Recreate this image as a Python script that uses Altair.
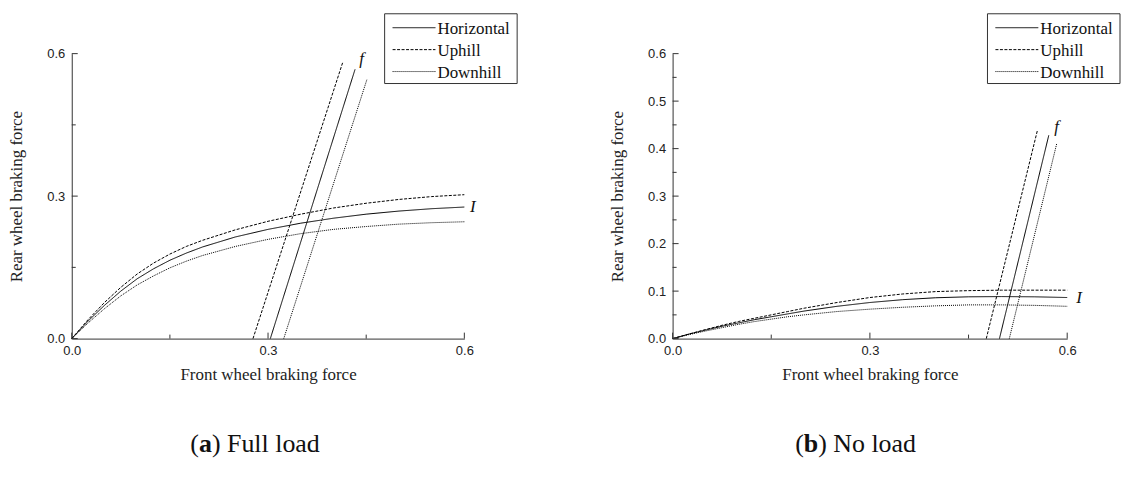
import altair as alt
import pandas as pd

# ---------------- data ----------------
series_names = ["Horizontal", "Uphill", "Downhill"]
dash_patterns = [[1, 0], [3, 1.5], [1, 1]]

i_x = [0, 0.025, 0.05, 0.075, 0.1, 0.125, 0.15, 0.175, 0.2, 0.25, 0.3, 0.35, 0.4, 0.45, 0.5, 0.55, 0.6]

# (a) Full load - I curves
a_I_h = [0, 0.037, 0.070, 0.100, 0.126, 0.147, 0.165, 0.180, 0.193, 0.214, 0.230, 0.243, 0.2535, 0.262, 0.2685, 0.2735, 0.277]
a_I_u = [0, 0.040, 0.076, 0.108, 0.136, 0.159, 0.178, 0.194, 0.207, 0.229, 0.247, 0.262, 0.275, 0.285, 0.293, 0.299, 0.303]
a_I_d = [0, 0.033, 0.063, 0.090, 0.113, 0.132, 0.149, 0.163, 0.175, 0.194, 0.209, 0.221, 0.230, 0.236, 0.241, 0.244, 0.246]
# (a) f lines (x, y at both ends)
a_f_h_x = [0.3035, 0.433]
a_f_h_y = [0.0, 0.567]
a_f_u_x = [0.277, 0.414]
a_f_u_y = [0.0, 0.581]
a_f_d_x = [0.324, 0.451]
a_f_d_y = [0.0, 0.545]

# (b) No load - I curves
b_I_h = [0, 0.0095, 0.018, 0.026, 0.033, 0.040, 0.046, 0.052, 0.058, 0.068, 0.076, 0.082, 0.086, 0.088, 0.0885, 0.088, 0.0865]
b_I_u = [0, 0.0097, 0.019, 0.028, 0.036, 0.043, 0.050, 0.057, 0.064, 0.076, 0.0865, 0.094, 0.099, 0.101, 0.102, 0.102, 0.102]
b_I_d = [0, 0.0085, 0.016, 0.023, 0.030, 0.036, 0.041, 0.046, 0.050, 0.057, 0.062, 0.066, 0.069, 0.071, 0.071, 0.070, 0.068]
b_f_h_x = [0.497, 0.572]
b_f_h_y = [0.0, 0.428]
b_f_u_x = [0.477, 0.555]
b_f_u_y = [0.0, 0.440]
b_f_d_x = [0.512, 0.584]
b_f_d_y = [0.0, 0.410]

# curve labels
a_label_text = ["f", "I"]
a_label_x = [0.443, 0.613]
a_label_y = [0.589, 0.277]
b_label_text = ["f", "I"]
b_label_x = [0.584, 0.618]
b_label_y = [0.446, 0.0865]

# ticks
x_major = [0.0, 0.3, 0.6]
x_minor = [0.15, 0.45]
a_y_major = [0.0, 0.3, 0.6]
a_y_minor = [0.15, 0.45]
b_y_major = [0.0, 0.1, 0.2, 0.3, 0.4, 0.5, 0.6]
b_y_minor = [0.05, 0.15, 0.25, 0.35, 0.45, 0.55]

# captions: pieces (text, bold)
a_caption = [("(", False), ("a", True), (") Full load", False)]
b_caption = [("(", False), ("b", True), (") No load", False)]

# ---------------- helpers ----------------
H = 286
SERIF = "Liberation Serif"
SANS = "Liberation Sans"
CAP_Y = 400
CAP_FS = 26


def build_df(I_h, I_u, I_d, fh, fu, fd):
    rows = []
    for name, ys in zip(series_names, [I_h, I_u, I_d]):
        for k, (xv, yv) in enumerate(zip(i_x, ys)):
            rows.append({"series": name, "curve": "I", "x": xv, "y": yv, "o": k})
    for name, (xs, ys) in zip(series_names, [fh, fu, fd]):
        for k, (xv, yv) in enumerate(zip(xs, ys)):
            rows.append({"series": name, "curve": "f", "x": xv, "y": yv, "o": k})
    return pd.DataFrame(rows)


def panel(df, W, y_major, y_minor, lab_t, lab_x, lab_y, caption, cap_x):
    xs = alt.Scale(domain=[0, 0.6], nice=False, zero=False)
    ys = alt.Scale(domain=[0, 0.6], nice=False, zero=False)
    xax = alt.Axis(title="Front wheel braking force", values=x_major, format=".1f",
                   ticks=False, tickSize=0, grid=False, labelFlush=False,
                   labelPadding=6, titlePadding=9)
    yax = alt.Axis(title="Rear wheel braking force", values=y_major, format=".1f",
                   ticks=False, tickSize=0, grid=False, labelFlush=False,
                   labelPadding=7, titlePadding=21)

    def X(f):
        return alt.X(f, scale=xs, axis=xax)

    def Y(f):
        return alt.Y(f, scale=ys, axis=yax)

    lines = alt.Chart(df).mark_line(color="black", strokeWidth=1).encode(
        x=X("x:Q"),
        y=Y("y:Q"),
        strokeDash=alt.StrokeDash(
            "series:N",
            scale=alt.Scale(domain=series_names, range=dash_patterns),
            legend=None,
        ),
        detail="curve:N",
        order="o:Q",
    )

    tdf = pd.DataFrame({"t": lab_t, "x": lab_x, "y": lab_y})
    labels = alt.Chart(tdf).mark_text(
        font=SERIF, fontSize=17, fontStyle="italic", color="#111"
    ).encode(x=X("x:Q"), y=Y("y:Q"), text="t:N")

    def xt(vals, ln):
        return alt.Chart(pd.DataFrame({"x": vals})).mark_rule(color="#333", strokeWidth=1).encode(
            x=X("x:Q"), y=alt.value(H), y2=alt.value(H - ln))

    def yt(vals, ln):
        return alt.Chart(pd.DataFrame({"y": vals})).mark_rule(color="#333", strokeWidth=1).encode(
            y=Y("y:Q"), x=alt.value(0), x2=alt.value(ln))

    # manual legend (box, line samples, labels)
    lx, ly = W - 80, -40
    box = alt.Chart(pd.DataFrame({"k": [0]})).mark_rect(
        fill="white", stroke="#333", strokeWidth=1
    ).encode(x=alt.value(lx), x2=alt.value(lx + 133), y=alt.value(ly), y2=alt.value(ly + 70))
    leg = [box]
    for i, (name, dash) in enumerate(zip(series_names, dash_patterns)):
        yy = ly + 14 + 22 * i
        leg.append(alt.Chart(pd.DataFrame({"k": [0]})).mark_rule(
            color="black", strokeWidth=1, strokeDash=dash
        ).encode(x=alt.value(lx + 8), x2=alt.value(lx + 51), y=alt.value(yy)))
        leg.append(alt.Chart(pd.DataFrame({"t": [name]})).mark_text(
            font=SERIF, fontSize=17, align="left", baseline="middle", color="#111"
        ).encode(text="t:N", x=alt.value(lx + 53), y=alt.value(yy + 1)))

    cap_layers = []
    off = cap_x
    for txt, bold in caption:
        c = alt.Chart(pd.DataFrame({"t": [txt]})).mark_text(
            font=SERIF, fontSize=CAP_FS, fontWeight="bold" if bold else "normal",
            align="left", baseline="alphabetic", color="#111"
        ).encode(text="t:N", x=alt.value(off), y=alt.value(CAP_Y))
        cap_layers.append(c)
        if txt == "(":
            off += 0.333 * CAP_FS
        elif bold:
            off += (0.5 if txt == "a" else 0.556) * CAP_FS

    return alt.layer(
        lines, labels, xt(x_major, 6), xt(x_minor, 4), yt(y_major, 6), yt(y_minor, 4),
        *leg, *cap_layers
    ).properties(width=W, height=H)


df_a = build_df(a_I_h, a_I_u, a_I_d, (a_f_h_x, a_f_h_y), (a_f_u_x, a_f_u_y), (a_f_d_x, a_f_d_y))
df_b = build_df(b_I_h, b_I_u, b_I_d, (b_f_h_x, b_f_h_y), (b_f_u_x, b_f_u_y), (b_f_d_x, b_f_d_y))

left = panel(df_a, 394, a_y_major, a_y_minor, a_label_text, a_label_x, a_label_y, a_caption, 119)
right = panel(df_b, 396, b_y_major, b_y_minor, b_label_text, b_label_x, b_label_y, b_caption, 123)

chart = alt.hconcat(left, right, spacing=209, bounds="flush").resolve_scale(
    x="independent", y="independent", strokeDash="independent"
).properties(
    padding={"left": 7, "top": 12, "right": 0, "bottom": 0},
    background="white",
).configure_view(stroke=None).configure_axis(
    domainColor="#333", domainWidth=1, labelColor="#222", labelFont=SANS, labelFontSize=13,
    titleFont=SERIF, titleFontSize=17, titleFontWeight="normal", titleColor="#222",
)

chart.save("out.html", embed_options={"renderer": "svg", "actions": False})
